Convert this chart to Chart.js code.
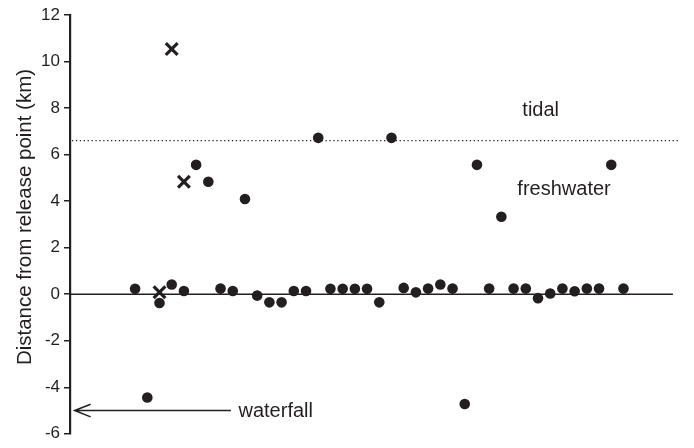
<!DOCTYPE html>
<html>
<head>
<meta charset="utf-8">
<script src="https://cdn.jsdelivr.net/npm/chart.js@4/dist/chart.umd.min.js"></script>
<style>
  html, body { margin: 0; padding: 0; background: #fff; }
  #wrap { width: 694px; height: 448px; }
</style>
</head>
<body>
<div id="wrap"><canvas id="c" width="694" height="448"></canvas></div>
<script>
// Fish released one by one; distance travelled from the release point (km)
const fishIds = [1,2,3,4,5,6,7,8,9,10,11,12,13,14,15,16,17,18,19,20,21,22,23,24,25,26,27,28,29,30,31,32,33,34,35,36,37,38,39,40,41];
const distanceKm = [0.23,-4.44,-0.38,0.42,0.14,5.56,4.83,0.24,0.14,4.09,-0.06,-0.35,-0.35,0.14,0.14,6.72,0.23,0.23,0.23,0.23,-0.35,6.72,0.27,0.08,0.24,0.42,0.24,-4.72,5.56,0.24,3.33,0.24,0.24,-0.17,0.03,0.24,0.13,0.24,0.24,5.56,0.24];
// Fish marked with a cross
const crossIds = [3, 4, 5];
const crossDistanceKm = [0.08, 10.54, 4.83];
// Reference levels
const tidalLimitKm = 6.6;
const waterfallKm = -5;
const yTicks = [-6,-4,-2,0,2,4,6,8,10,12];

const INK = '#231f20';
const FONT = '"Liberation Sans", Arial, Helvetica, sans-serif';

const decor = {
  id: 'decor',
  beforeDatasetsDraw(chart) {
    const { ctx, scales: { x, y }, chartArea } = chart;
    ctx.save();
    // zero line
    ctx.strokeStyle = INK;
    ctx.lineWidth = 1.5;
    ctx.beginPath();
    ctx.moveTo(chartArea.left, y.getPixelForValue(0));
    ctx.lineTo(x.getPixelForValue(45.05), y.getPixelForValue(0));
    ctx.stroke();
    // tidal limit (dotted)
    ctx.lineWidth = 1.2;
    ctx.setLineDash([1.3, 2.6]);
    ctx.beginPath();
    const ty = y.getPixelForValue(tidalLimitKm);
    ctx.moveTo(chartArea.left + 2, ty);
    ctx.lineTo(chartArea.right, ty);
    ctx.stroke();
    ctx.setLineDash([]);
    // waterfall arrow
    const wy = y.getPixelForValue(waterfallKm);
    const tipX = x.getPixelForValue(-3.95);
    ctx.lineWidth = 1.5;
    ctx.beginPath();
    ctx.moveTo(x.getPixelForValue(8.85), wy);
    ctx.lineTo(tipX, wy);
    ctx.moveTo(tipX + 16, wy - 6.3);
    ctx.lineTo(tipX, wy);
    ctx.lineTo(tipX + 16, wy + 6.3);
    ctx.stroke();
    // region labels
    ctx.fillStyle = INK;
    ctx.font = '20px ' + FONT;
    ctx.textAlign = 'left';
    ctx.textBaseline = 'alphabetic';
    ctx.fillText('tidal', x.getPixelForValue(32.72), y.getPixelForValue(7.68));
    ctx.fillText('freshwater', x.getPixelForValue(32.31), y.getPixelForValue(4.26));
    ctx.fillText('waterfall', x.getPixelForValue(9.47), y.getPixelForValue(-5.26));
    // axis title
    ctx.font = '20.5px ' + FONT;
    ctx.textAlign = 'center';
    ctx.textBaseline = 'middle';
    ctx.translate(25, 217);
    ctx.rotate(-Math.PI / 2);
    ctx.fillText('Distance from release point (km)', 0, 0);
    ctx.restore();
  }
};

new Chart(document.getElementById('c'), {
  type: 'scatter',
  data: {
    datasets: [
      {
        label: 'fish',
        data: fishIds.map((id, i) => ({ x: id, y: distanceKm[i] })),
        pointStyle: 'circle',
        pointRadius: 5.3,
        pointHoverRadius: 5.3,
        backgroundColor: INK,
        borderColor: INK,
        borderWidth: 0
      },
      {
        label: 'cross',
        data: crossIds.map((id, i) => ({ x: id, y: crossDistanceKm[i] })),
        pointStyle: 'crossRot',
        pointRadius: 8.3,
        pointHoverRadius: 8.3,
        backgroundColor: INK,
        borderColor: INK,
        borderWidth: 3.2
      }
    ]
  },
  options: {
    responsive: false,
    animation: false,
    events: [],
    layout: { padding: { left: 0, top: 15, right: 14, bottom: 9 } },
    plugins: { legend: { display: false }, tooltip: { enabled: false } },
    scales: {
      x: { type: 'linear', display: false, min: -4.33, max: 45.63 },
      y: {
        type: 'linear',
        min: -6, max: 12,
        afterFit(scale) { scale.width = 70; },
        afterBuildTicks(scale) { scale.ticks = yTicks.map(v => ({ value: v })); },
        border: { display: true, color: INK, width: 2.2 },
        grid: { drawOnChartArea: false, drawTicks: true, tickLength: 6, color: INK, lineWidth: 1.5 },
        ticks: {
          color: INK,
          padding: 4,
          font: { family: FONT, size: 17 },
          callback: v => String(v)
        }
      }
    }
  },
  plugins: [decor]
});
</script>
</body>
</html>
